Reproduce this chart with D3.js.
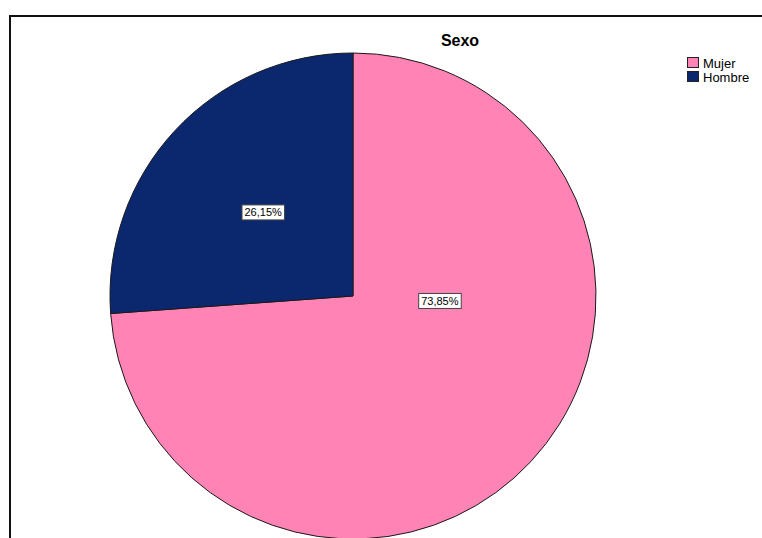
<!DOCTYPE html>
<html>
<head>
<meta charset="utf-8">
<script src="https://cdn.jsdelivr.net/npm/d3@7"></script>
<style>
  html, body { margin: 0; padding: 0; background: #fff; }
  svg { display: block; }
  text { font-family: "Liberation Sans", Arial, sans-serif; }
</style>
</head>
<body>
<script>
// ---- data ----
const categories = ["Mujer", "Hombre"];
const values = [73.85, 26.15];
const labels = ["73,85%", "26,15%"];
const colors = ["#ff83b5", "#0b286f"];
const title = "Sexo";

const W = 762, H = 538;
const svg = d3.select("body").append("svg").attr("width", W).attr("height", H);

// frame
svg.append("path")
  .attr("d", `M10,${H} L10,16 L${W},16`)
  .attr("fill", "none").attr("stroke", "#111").attr("stroke-width", 2);

// title
svg.append("text")
  .attr("x", 460).attr("y", 46)
  .attr("text-anchor", "middle")
  .attr("font-size", 16).attr("font-weight", "bold")
  .attr("fill", "#000")
  .text(title);

// pie
const cx = 353, cy = 296, r = 243;
const data = categories.map((c, i) => ({ cat: c, value: values[i], label: labels[i], color: colors[i] }));
const pie = d3.pie().value(d => d.value).sort(null);
const arcs = pie(data);
const arc = d3.arc().innerRadius(0).outerRadius(r);

const g = svg.append("g").attr("transform", `translate(${cx},${cy})`);
g.selectAll("path.slice").data(arcs).enter().append("path")
  .attr("class", "slice")
  .attr("d", arc)
  .attr("fill", d => d.data.color)
  .attr("stroke", "#1a1a1a")
  .attr("stroke-width", 1);

// labels
function labelPos(d) {
  const frac = (d.endAngle - d.startAngle) / (2 * Math.PI);
  if (frac > 0.5) {
    // large slice: label placed towards the east side of the pie
    return d3.pointRadial(Math.PI / 2 + 0.057, r * 0.358);
  }
  const mid = (d.startAngle + d.endAngle) / 2;
  return d3.pointRadial(mid, r * 0.505);
}
const lab = g.selectAll("g.lab").data(arcs).enter().append("g")
  .attr("class", "lab")
  .attr("transform", d => { const p = labelPos(d); return `translate(${p[0]},${p[1]})`; });
lab.append("text")
  .attr("text-anchor", "middle")
  .attr("dy", "0.36em")
  .attr("font-size", 11)
  .attr("fill", "#000")
  .text(d => d.data.label);
lab.each(function() {
  const t = d3.select(this).select("text");
  const b = t.node().getBBox();
  d3.select(this).insert("rect", "text")
    .attr("x", b.x - 2.5).attr("y", -7.5)
    .attr("width", b.width + 5).attr("height", 15)
    .attr("fill", "#fff").attr("stroke", "#444").attr("stroke-width", 1);
});

// legend
const leg = svg.append("g").attr("transform", "translate(687,57)");
const items = leg.selectAll("g").data(data).enter().append("g")
  .attr("transform", (d, i) => `translate(0,${i * 14})`);
items.append("rect")
  .attr("x", 0.5).attr("y", 0.5).attr("width", 11).attr("height", 10)
  .attr("fill", d => d.color).attr("stroke", "#222").attr("stroke-width", 1);
items.append("text")
  .attr("x", 16).attr("y", 10.5)
  .attr("font-size", 13).attr("fill", "#000")
  .text(d => d.cat);
</script>
</body>
</html>
